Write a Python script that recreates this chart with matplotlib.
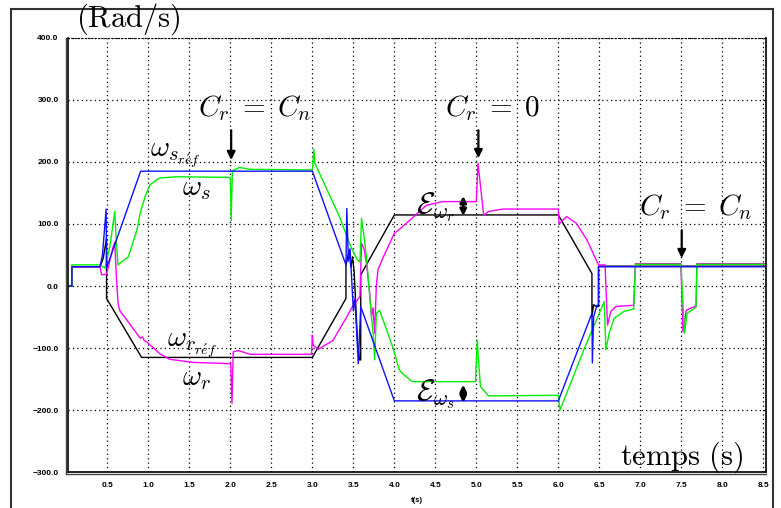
import matplotlib
matplotlib.use("Agg")
import matplotlib.pyplot as plt
from matplotlib.lines import Line2D

plt.rcParams["mathtext.fontset"] = "cm"

# speed curves (t in s, speeds in rad/s)
t_ws_ref = [0.024, 0.067, 0.067, 0.41, 0.44, 0.485, 0.49, 0.906, 3.0, 3.41, 3.42, 3.44,
            3.46, 3.5, 3.52, 3.56, 3.59, 4.0, 6.0, 6.41, 6.415, 6.43, 6.47, 6.49, 6.49, 8.53]
ws_ref = [0, 0, 31, 31, 50, 124, 29, 185, 185, 34, 125, 40,
          60, -40, -20, -125, -33, -185, -185, -44, -124, -50, -31, -31, 31, 31]

t_wr_ref = [0.024, 0.067, 0.067, 0.41, 0.45, 0.49, 0.49, 0.918, 3.0, 3.41, 3.41, 3.45, 3.47,
            3.49, 3.51, 3.55, 3.575, 3.59, 3.59, 4.0, 6.0, 6.41, 6.41, 6.43, 6.46,
            6.49, 6.49, 8.53]
wr_ref = [0, 0, 31, 31, 45, 77, -20, -115, -115, -20, 34, 58, 30,
          47, 23, -87, -119, -119, 18, 114.5, 114.5, 20, -49, -30, -33,
          -33, 32, 32]

t_ws = [0.024, 0.067, 0.067, 0.41, 0.47, 0.53, 0.59, 0.61, 0.63, 0.675, 0.756, 0.86, 0.9,
        0.96, 1.02, 1.1, 1.14, 1.34, 1.97, 2.0, 2.01, 2.025, 2.05, 2.11, 2.24, 3.0, 3.02,
        3.03, 3.33, 3.47, 3.55, 3.58, 3.6, 3.63, 3.66, 3.7, 3.74, 3.76, 3.78, 3.82, 3.98,
        4.06, 4.1, 4.22, 4.6, 4.99, 5.01, 5.05, 5.15, 6.0, 6.02, 6.31, 6.56, 6.58, 6.62,
        6.68, 6.8, 6.92, 6.94, 7.495, 7.54, 7.57, 7.68, 7.69, 8.53]
ws = [0, 0, 34, 34, 29, 63, 120, 70, 34, 39, 47, 90, 117,
      144, 163, 171, 174, 176, 175, 174, 105, 186, 187, 191, 188, 187, 220,
      198, 112, 63, 42, 39, 109, 80, 47, -17, -76, -119, -44, -39, -98,
      -135, -141, -154, -154, -154, -87, -162, -177, -176, -200, -103, -25, -103, -76,
      -52, -41, -37, 35, 35, -76, -44, -34, 35, 35]

t_wr = [0.024, 0.067, 0.067, 0.41, 0.43, 0.49, 0.57, 0.59, 0.61, 0.63, 0.65, 0.675, 0.74,
        0.9, 0.93, 0.95, 0.98, 1.14, 1.26, 1.55, 1.99, 2.005, 2.02, 2.035, 2.1, 2.24,
        2.99, 3.0, 3.01, 3.07, 3.25, 3.41, 3.49, 3.58, 3.6, 3.63, 3.66, 3.7, 3.72, 3.74,
        3.76, 3.78, 3.8, 3.86, 4.0, 4.05, 4.18, 4.39, 4.59, 5.0, 5.02, 5.09, 5.15, 5.32,
        6.0, 6.01, 6.1, 6.22, 6.35, 6.49, 6.57, 6.6, 6.64, 6.7, 6.92, 6.94, 7.495, 7.52,
        7.56, 7.68, 7.69, 8.53]
wr = [0, 0, 31, 31, 18, 19, 63, 71, 15, -28, -39, -44, -55,
      -84, -82, -88, -90, -109, -118, -123, -125, -125, -189, -106, -104, -110,
      -110, -79, -95, -102, -88, -52, -33, -17, 69, 60, 37, -12, -49, -35,
      -76, -1, 26, 45, 85, 90, 105, 130, 136, 136, 198, 114, 120, 124,
      124, 100, 112, 101, 74, 34, 34, -63, -41, -33, -31, 36, 36, -74,
      -39, -32, 36, 36]

xticks = [0.5, 1.0, 1.5, 2.0, 2.5, 3.0, 3.5, 4.0, 4.5, 5.0, 5.5, 6.0, 6.5, 7.0, 7.5, 8.0, 8.5]
yticks = [-300, -200, -100, 0, 100, 200, 300, 400]
ylabels = ["\u2212300.0", "\u2212200.0", "\u2212100.0", "0.0", "100.0", "200.0", "300.0", "400.0"]

fig = plt.figure(figsize=(7.81, 5.08), dpi=100)
ax = fig.add_axes([0.0875, 0.0703, 0.8930, 0.8555])

ax.plot(t_wr_ref, wr_ref, color="black", lw=1.0)
ax.plot(t_wr, wr, color="#ff00ff", lw=1.0)
ax.plot(t_ws, ws, color="#00ee00", lw=1.0)
ax.plot(t_ws_ref, ws_ref, color="#1010ff", lw=1.0)

ax.set_xlim(0.024, 8.53)
ax.set_ylim(-300, 400)
ax.set_xticks(xticks)
ax.set_xticklabels([f"{v:.1f}" for v in xticks])
ax.set_yticks(yticks)
ax.set_yticklabels(ylabels)
ax.grid(True, color="black", lw=0.9, linestyle=(0, (1, 2.5)))
ax.tick_params(length=0, labelsize=6, pad=7)
for lab in ax.get_xticklabels() + ax.get_yticklabels():
    lab.set_fontweight("bold")
    lab.set_family("Liberation Sans")
ax.set_xlabel("t(s)", fontsize=5.5, fontweight="bold", family="Liberation Sans", labelpad=6)
ax.spines["top"].set_linestyle((0, (1, 2)))
for s in ["left", "bottom", "right"]:
    ax.spines[s].set_linewidth(1.2)

# outer frame and doubled spines
tf = fig.transFigure
fig.add_artist(Line2D([0.0137, 0.0137], [0.0, 0.9817], transform=tf, color="#333333", lw=1.5))
fig.add_artist(Line2D([0.0137, 0.9898], [0.9817, 0.9817], transform=tf, color="#333333", lw=1.5))
fig.add_artist(Line2D([0.9898, 0.9898], [0.0, 0.9817], transform=tf, color="#333333", lw=1.5))
fig.add_artist(Line2D([0.0841, 0.0841], [0.0663, 0.9258], transform=tf, color="#444444", lw=1.0))
fig.add_artist(Line2D([0.0841, 0.9804], [0.0663, 0.0663], transform=tf, color="#444444", lw=1.0))

fs = 21
fig.text(0.164, 0.962, r"$\mathrm{(Rad/s)}$", fontsize=22, ha="center", va="center")
ax.text(7.51, -275, r"$\mathrm{temps\ (s)}$", fontsize=22, ha="center", va="center")

ax.text(2.30, 287, r"$C_r\;=\;C_n$", fontsize=fs, ha="center", va="center")
ax.text(5.19, 287, r"$C_r\;=\;0$", fontsize=fs, ha="center", va="center")
ax.text(7.67, 127, r"$C_r\;=\;C_n$", fontsize=fs, ha="center", va="center")

arrow = dict(arrowstyle="-|>", color="black", lw=1.6, mutation_scale=12, shrinkA=0, shrinkB=0)
ax.annotate("", xy=(2.01, 203), xytext=(2.01, 251), arrowprops=arrow)
ax.annotate("", xy=(5.025, 206), xytext=(5.025, 251), arrowprops=arrow)
ax.annotate("", xy=(7.505, 45), xytext=(7.505, 90), arrowprops=arrow)

ax.text(1.02, 208, r"$\omega_{s_{r\acute{e}f}}$", fontsize=fs, ha="left", va="baseline")
ax.text(1.407, 146, r"$\omega_s$", fontsize=fs, ha="left", va="baseline")
ax.text(1.222, -98, r"$\omega_{r_{r\acute{e}f}}$", fontsize=fs, ha="left", va="baseline")
ax.text(1.407, -160, r"$\omega_r$", fontsize=fs, ha="left", va="baseline")

ax.text(4.264, 117, r"$\mathcal{E}_{\omega_r}$", fontsize=22, ha="left", va="baseline")
ax.text(4.264, -184, r"$\mathcal{E}_{\omega_s}$", fontsize=22, ha="left", va="baseline")
darrow = dict(arrowstyle="<|-|>", color="black", lw=2, mutation_scale=9, shrinkA=0, shrinkB=0)
ax.annotate("", xy=(4.84, 145), xytext=(4.84, 113), arrowprops=darrow)
ax.annotate("", xy=(4.84, -159), xytext=(4.84, -188), arrowprops=darrow)

fig.savefig("out.png", dpi=100)
